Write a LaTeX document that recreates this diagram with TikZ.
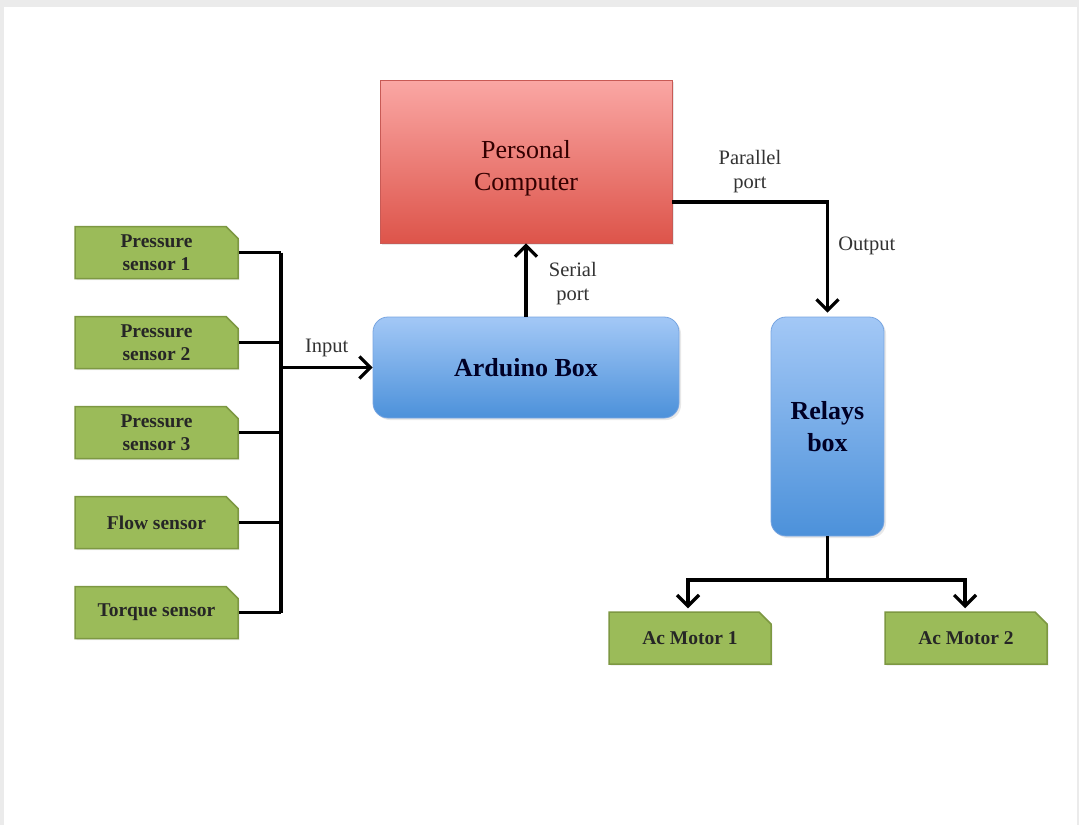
\documentclass[tikz,border=0pt]{standalone}
\usepackage{fontspec}
\setmainfont{Liberation Serif}
\usetikzlibrary{positioning,shapes.misc,arrows.meta,shadows}

\definecolor{sensorgreen}{RGB}{155,187,89}
\definecolor{sensorline}{RGB}{125,152,66}
\definecolor{pctop}{RGB}{250,167,164}
\definecolor{pcbot}{RGB}{221,84,74}
\definecolor{pcline}{RGB}{200,90,85}
\definecolor{boxtop}{RGB}{163,200,246}
\definecolor{boxbot}{RGB}{76,145,218}
\definecolor{boxline}{RGB}{120,165,225}

\tikzset{
  sensor/.style={chamfered rectangle, chamfered rectangle corners=north east,
    chamfered rectangle xsep=6pt, chamfered rectangle ysep=6pt,
    draw=sensorline, line width=1.5pt, fill=sensorgreen,
    minimum width=163pt, minimum height=52pt, inner sep=0pt, align=center,
    font=\fontsize{19.5}{23.5}\selectfont\bfseries, text=black!85,
    drop shadow={shadow xshift=1.5pt, shadow yshift=-1.5pt, opacity=0.15}},
  unit/.style={rounded corners=15pt, draw=boxline, line width=0.8pt,
    top color=boxtop, bottom color=boxbot, inner sep=0pt, align=center,
    font=\fontsize{26}{32}\selectfont\bfseries, text=black!85!blue,
    drop shadow={shadow xshift=2pt, shadow yshift=-2pt, opacity=0.18}},
  wire/.style={line width=3.2pt},
  arr/.style={wire, -{Straight Barb[length=11pt,width=22pt,line width=3.2pt]}},
  lbl/.style={font=\fontsize{20.5}{24.5}\selectfont, text=black!80, align=center}
}

\begin{document}
\begin{tikzpicture}[x=1pt,y=1pt,node distance=90pt,on grid]
  \useasboundingbox (0,0) rectangle (1079,-825);
  \fill[black!8] (0,0) rectangle (1079,-825);
  \fill[white] (4,-7) rectangle (1077,-825);

  % computer and arduino
  \node[draw=pcline, line width=0.8pt, top color=pctop, bottom color=pcbot,
    minimum width=292pt, minimum height=163pt, align=center,
    font=\fontsize{26}{32}\selectfont, text=black!80!red,
    drop shadow={shadow xshift=2pt, shadow yshift=-2pt, opacity=0.18}]
    (pc) at (526,-161.5) {\rule{0pt}{32pt}Personal\\Computer\rule[-5pt]{0pt}{0pt}};
  \node[unit, minimum width=306pt, minimum height=101pt] (ard) [below=206pt of pc] {Arduino Box};

  % sensors
  \node[sensor] (ps1) at (156.5,-252.5) {Pressure\\sensor 1};
  \node[sensor] (ps2) [below=of ps1] {Pressure\\sensor 2};
  \node[sensor] (ps3) [below=of ps2] {Pressure\\sensor 3};
  \node[sensor] (flow) [below=of ps3] {Flow sensor};
  \node[sensor] (torque) [below=of flow] {Torque sensor};

  % relays and motors
  \node[unit, minimum width=113pt, minimum height=219pt] (relays) at (827.5,-426.5) {Relays\\box};
  \node[sensor, minimum width=162pt] (m1) at (690,-638) {Ac Motor 1};
  \node[sensor, minimum width=162pt] (m2) [right=276pt of m1] {Ac Motor 2};

  % input bus
  \coordinate (bus) at (281,-252.5);
  \draw[wire] (ps1.east -| bus) -- (torque.east -| bus);
  \foreach \s in {ps1,ps2,ps3,flow,torque}
    \draw[wire] (\s.east) -- (\s.east -| bus);
  \draw[arr] (ard.west -| bus) -- node[lbl, above=6pt] {Input} (ard.west);

  % ports
  \draw[arr] (ard.north) -- node[lbl, right=18pt, pos=0.45] {Serial\\port} (pc.south);
  \coordinate (pp) at (827.5,-202);
  \draw[arr] (pp -| pc.east) -- node[lbl, above=4pt] {Parallel\\port} (pp)
    -- node[lbl, right=6pt, pos=0.4] {Output} ([yshift=4pt]relays.north);

  % outputs
  \coordinate (split) at (827.5,-580);
  \draw[wire] (relays.south) -- (split);
  \draw[arr] (split) -| ([xshift=-2pt,yshift=3pt]m1.north);
  \draw[arr] (split) -| ([xshift=-1pt,yshift=3pt]m2.north);
\end{tikzpicture}
\end{document}
